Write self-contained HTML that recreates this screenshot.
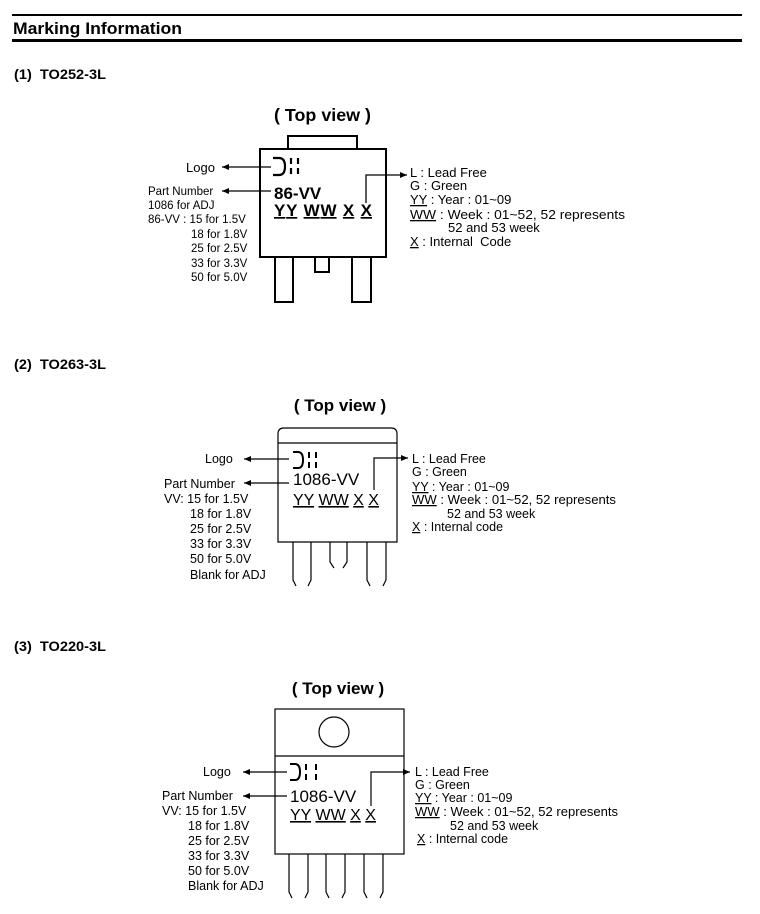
<!DOCTYPE html>
<html><head><meta charset="utf-8"><style>
html,body{margin:0;padding:0;background:#fff;font-family:"Liberation Sans",Arial,Helvetica,sans-serif;}
svg{display:block;}
svg text{font-family:"Liberation Sans",Arial,Helvetica,sans-serif;}
</style></head><body>
<svg width="760" height="914" viewBox="0 0 760 914" xmlns="http://www.w3.org/2000/svg">
<defs>
<marker id="ar" markerWidth="8" markerHeight="8" refX="7" refY="4" orient="auto" markerUnits="userSpaceOnUse">
<path d="M0,1 L7,4 L0,7 Z" fill="#000"/></marker>
</defs>
<rect x="12" y="14" width="730" height="2" fill="#000"/>
<rect x="12" y="39" width="730" height="3" fill="#000"/>
<text x="13" y="34" font-size="17" font-weight="bold" textLength="169" lengthAdjust="spacingAndGlyphs">Marking Information</text>

<text x="14" y="79" font-size="13.5" font-weight="bold" textLength="92" lengthAdjust="spacingAndGlyphs">(1)&#160; TO252-3L</text>
<text x="14" y="369" font-size="13.5" font-weight="bold" textLength="92" lengthAdjust="spacingAndGlyphs">(2)&#160; TO263-3L</text>
<text x="14" y="651" font-size="13.5" font-weight="bold" textLength="92" lengthAdjust="spacingAndGlyphs">(3)&#160; TO220-3L</text>

<!-- ===== Diagram 1 ===== -->
<text x="274" y="121" font-size="17.5" font-weight="bold" textLength="97" lengthAdjust="spacingAndGlyphs">( Top view )</text>
<g fill="none" stroke="#000" stroke-width="2">
<path d="M288,149 V136 H357 V149"/>
<rect x="260" y="149" width="126" height="108"/>
<path d="M275,257 V302 H293 V257"/>
<path d="M315,257 V272 H329 V257"/>
<path d="M352,257 V302 H371 V257"/>
</g>
<g fill="none" stroke="#000" stroke-width="2.2">
<path d="M273,158 H279 Q285,158 285,166.5 Q285,175 279,175 H273"/>
<path d="M291,158 V164 M291,168 V174 M298,158 V164 M298,168 V174"/>
</g>
<text x="274" y="199" font-size="17" font-weight="bold">86-VV</text>
<text x="274" y="216" font-size="17" font-weight="bold" textLength="98" lengthAdjust="spacing"><tspan text-decoration="underline">YY</tspan> <tspan text-decoration="underline">WW</tspan> <tspan text-decoration="underline">X</tspan> <tspan text-decoration="underline">X</tspan></text>
<g stroke="#000" stroke-width="1.3" fill="none">
<path d="M271,167 H222" marker-end="url(#ar)"/>
<path d="M271,191 H222" marker-end="url(#ar)"/>
<path d="M366,203 V175 H407" marker-end="url(#ar)"/>
</g>
<text x="186" y="172" font-size="13">Logo</text>
<g font-size="11.5">
<text x="148" y="195">Part Number</text>
<text x="148" y="209">1086 for ADJ</text>
<text x="148" y="223">86-VV : 15 for 1.5V</text>
<text x="191" y="238">18 for 1.8V</text>
<text x="191" y="252">25 for 2.5V</text>
<text x="191" y="267">33 for 3.3V</text>
<text x="191" y="281">50 for 5.0V</text>
</g>
<g font-size="13">
<text x="410" y="177">L : Lead Free</text>
<text x="410" y="190">G : Green</text>
<text x="410" y="204"><tspan text-decoration="underline">YY</tspan> : Year : 01~09</text>
<text x="410" y="219" textLength="215" lengthAdjust="spacingAndGlyphs"><tspan text-decoration="underline">WW</tspan> : Week : 01~52, 52 represents</text>
<text x="448" y="232">52 and 53 week</text>
<text x="410" y="246"><tspan text-decoration="underline">X</tspan> : Internal&#160; Code</text>
</g>

<!-- ===== Diagram 2 ===== -->
<text x="340" y="411" font-size="17" font-weight="bold" text-anchor="middle">( Top view )</text>
<g fill="none" stroke="#000" stroke-width="1.2">
<path d="M278,542 V434 Q278,428 284,428 H391 Q397,428 397,434 V542 Z"/>
<path d="M278,443 H397"/>
<path d="M293,542 V580 L296,586 M311,542 V580 L308,586"/>
<path d="M330,542 V562 L334,568 M347,542 V562 L343,568"/>
<path d="M367,542 V580 L370,586 M386,542 V580 L383,586"/>
</g>
<g fill="none" stroke="#000" stroke-width="2">
<path d="M293,452 H298 Q303,452 303,460 Q303,468 298,468 H293"/>
<path d="M309,452 V458 M309,462 V468 M316,452 V458 M316,462 V468"/>
</g>
<text x="293" y="485" font-size="17">1086-VV</text>
<text x="293" y="505" font-size="16"><tspan text-decoration="underline">YY</tspan> <tspan text-decoration="underline">WW</tspan> <tspan text-decoration="underline">X</tspan> <tspan text-decoration="underline">X</tspan></text>
<g stroke="#000" stroke-width="1.2" fill="none">
<path d="M289,459 H244" marker-end="url(#ar)"/>
<path d="M289,483 H244" marker-end="url(#ar)"/>
<path d="M374,490 V458 H408" marker-end="url(#ar)"/>
</g>
<g font-size="12.5">
<text x="205" y="463">Logo</text>
<text x="164" y="488">Part Number</text>
<text x="164" y="503">VV: 15 for 1.5V</text>
<text x="190" y="518">18 for 1.8V</text>
<text x="190" y="533">25 for 2.5V</text>
<text x="190" y="548">33 for 3.3V</text>
<text x="190" y="563">50 for 5.0V</text>
<text x="190" y="579">Blank for ADJ</text>
</g>
<g font-size="12.5">
<text x="412" y="463">L : Lead Free</text>
<text x="412" y="476">G : Green</text>
<text x="412" y="491"><tspan text-decoration="underline">YY</tspan> : Year : 01~09</text>
<text x="412" y="504" textLength="204" lengthAdjust="spacingAndGlyphs"><tspan text-decoration="underline">WW</tspan> : Week : 01~52, 52 represents</text>
<text x="447" y="518">52 and 53 week</text>
<text x="412" y="531"><tspan text-decoration="underline">X</tspan> : Internal code</text>
</g>

<!-- ===== Diagram 3 ===== -->
<text x="338" y="694" font-size="17" font-weight="bold" text-anchor="middle">( Top view )</text>
<g fill="none" stroke="#000" stroke-width="1.2">
<rect x="275" y="709" width="129" height="145"/>
<path d="M275,756 H404"/>
<circle cx="334" cy="732" r="15"/>
<path d="M289,854 V892 L292,898 M308,854 V892 L305,898"/>
<path d="M326,854 V892 L329,898 M345,854 V892 L342,898"/>
<path d="M364,854 V892 L367,898 M383,854 V892 L380,898"/>
</g>
<g fill="none" stroke="#000" stroke-width="2">
<path d="M290,764 H295 Q300,764 300,772 Q300,780 295,780 H290"/>
<path d="M306,764 V770 M306,774 V780 M316,764 V770 M316,774 V780"/>
</g>
<text x="290" y="802" font-size="17">1086-VV</text>
<text x="290" y="820" font-size="16"><tspan text-decoration="underline">YY</tspan> <tspan text-decoration="underline">WW</tspan> <tspan text-decoration="underline">X</tspan> <tspan text-decoration="underline">X</tspan></text>
<g stroke="#000" stroke-width="1.2" fill="none">
<path d="M287,772 H243" marker-end="url(#ar)"/>
<path d="M287,796 H243" marker-end="url(#ar)"/>
<path d="M371,806 V772 H410" marker-end="url(#ar)"/>
</g>
<g font-size="12.5">
<text x="203" y="776">Logo</text>
<text x="162" y="800">Part Number</text>
<text x="162" y="815">VV: 15 for 1.5V</text>
<text x="188" y="830">18 for 1.8V</text>
<text x="188" y="845">25 for 2.5V</text>
<text x="188" y="860">33 for 3.3V</text>
<text x="188" y="875">50 for 5.0V</text>
<text x="188" y="890">Blank for ADJ</text>
</g>
<g font-size="12.5">
<text x="415" y="776">L : Lead Free</text>
<text x="415" y="789">G : Green</text>
<text x="415" y="802"><tspan text-decoration="underline">YY</tspan> : Year : 01~09</text>
<text x="415" y="816" textLength="203" lengthAdjust="spacingAndGlyphs"><tspan text-decoration="underline">WW</tspan> : Week : 01~52, 52 represents</text>
<text x="450" y="830">52 and 53 week</text>
<text x="417" y="843"><tspan text-decoration="underline">X</tspan> : Internal code</text>
</g>
</svg>
</body></html>
